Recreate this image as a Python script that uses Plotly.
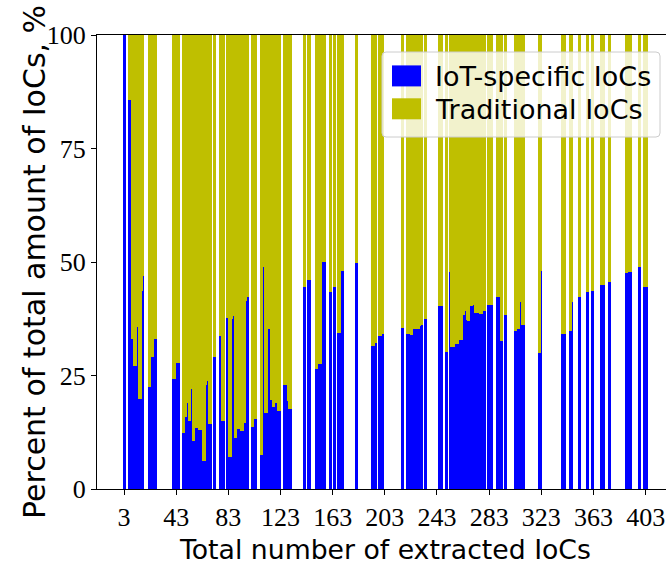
import plotly.graph_objects as go

# Total number of extracted IoCs (x) and share of IoT-specific IoCs, %
total_iocs = [
    3, 4, 7, 8, 9, 10, 11, 12, 14, 15, 16, 17, 18, 22, 23, 24, 25, 27, 28,
    41, 42, 43, 44, 45, 48, 49, 50, 51, 52, 53, 54, 55, 56, 57, 58, 59, 60, 61, 62,
    64, 65, 66, 67, 68, 69, 70, 72, 73, 77, 78, 79, 80,
    82, 83, 84, 85, 86, 87, 88, 89, 90, 91, 93, 94, 95, 96, 97, 98,
    101, 102, 103, 104, 108, 109, 110, 111, 112, 113, 114, 115, 116, 117, 118, 119,
    120, 121, 122, 123, 126, 127, 129, 130, 131,
    141, 142, 144, 145, 146, 150, 151, 152, 153, 154, 156, 157, 161, 162, 164, 165,
    167, 168, 169, 170, 171, 181, 182, 193, 194, 195, 196, 199, 200, 201, 202,
    216, 217, 220, 221, 222, 223, 224, 225, 226, 228, 229, 230, 231, 232, 234, 235,
    245, 246, 247, 250, 251, 253, 254, 255, 256, 258, 259, 260, 261, 262, 263, 264,
    265, 266, 267, 268, 269, 270, 271, 272, 273, 274, 275, 276, 277, 278, 279, 280,
    282, 283, 284, 285, 289, 290, 291, 292, 293, 295, 296,
    303, 304, 305, 306, 307, 308, 309, 310, 321, 322, 323,
    339, 340, 341, 345, 346, 347, 352, 353, 358, 359, 362, 363,
    369, 370, 371, 375, 376, 388, 389, 390, 391, 392, 398, 399, 402, 403, 404,
]

iot_specific_pct = [
    100, 100, 85.6, 85.6, 33.1, 33.1, 27.2, 27.2, 35.6, 19.9, 19.9, 43.7, 47.0, 22.5, 22.5, 29.1, 29.1, 33.1, 33.1,
    24.3, 24.3, 27.8, 27.8, 27.8, 12.4, 12.4, 15.9, 15.9, 19.0, 15.0, 15.0, 22.1, 10.6, 10.6, 13.5, 13.5, 13.5, 13.1, 13.1,
    6.2, 6.2, 23.0, 23.8, 14.4, 14.4, 14.4, 29.1, 29.1, 33.6, 15.0, 15.0, 15.0,
    37.7, 37.7, 7.1, 7.1, 37.5, 38.2, 11.3, 11.3, 13.2, 13.2, 12.8, 12.8, 14.6, 14.6, 41.5, 42.2,
    13.7, 13.7, 15.5, 15.5, 7.4, 7.4, 49.0, 16.8, 16.8, 16.8, 35.3, 50.8, 19.7, 18.0, 18.0, 19.1,
    19.0, 17.1, 17.1, 17.1, 23.0, 23.0, 19.3, 17.7, 17.7,
    44.6, 44.6, 46.1, 46.1, 46.1, 26.5, 26.5, 27.6, 27.6, 27.6, 49.9, 49.9, 43.3, 43.3, 44.4, 44.4,
    34.4, 34.4, 34.4, 48.1, 48.1, 49.7, 49.7, 31.6, 31.6, 31.6, 32.2, 33.6, 33.6, 34.2, 34.2,
    35.5, 35.5, 34.2, 34.2, 34.2, 34.0, 34.0, 35.3, 35.3, 35.3, 35.3, 35.8, 36.2, 36.2, 37.5, 37.5,
    40.2, 40.2, 40.2, 30.2, 30.2, 47.9, 31.3, 31.3, 31.3, 32.0, 32.0, 32.9, 32.9, 32.9, 38.4, 38.4,
    39.3, 37.3, 37.1, 37.1, 40.2, 40.2, 40.6, 38.8, 38.8, 38.8, 38.8, 38.6, 38.6, 38.6, 39.3, 39.3,
    40.6, 40.6, 40.6, 40.6, 42.4, 42.4, 42.4, 32.5, 32.5, 38.4, 38.4,
    34.9, 34.9, 35.3, 35.3, 41.1, 36.2, 36.2, 36.2, 30.0, 30.0, 48.1,
    34.2, 34.2, 34.2, 34.9, 34.9, 41.3, 42.2, 42.2, 43.3, 43.3, 43.7, 43.7,
    45.0, 45.0, 45.0, 45.7, 45.7, 47.5, 47.5, 47.7, 47.7, 47.9, 48.8, 48.8, 44.6, 44.6, 44.6,
]

traditional_pct = [100 - v for v in iot_specific_pct]

x_ticks = [3, 43, 83, 123, 163, 203, 243, 283, 323, 363, 403]
y_ticks = [0, 25, 50, 75, 100]
series_names = ["IoT-specific IoCs", "Traditional IoCs"]
colors = ["#0000ff", "#bfbf00"]

W, H = 666, 565
L, R, T, B = 97, 0, 35, 76
pw, ph = W - L - R, H - T - B

def px_x(p):
    return (p - L) / pw

def px_y(p):
    return (H - B - p) / ph

fig = go.Figure()
fig.add_trace(go.Bar(x=total_iocs, y=iot_specific_pct, name=series_names[0],
                     marker=dict(color=colors[0], line=dict(width=0)), width=1,
                     showlegend=False))
fig.add_trace(go.Bar(x=total_iocs, y=traditional_pct, name=series_names[1],
                     marker=dict(color=colors[1], line=dict(width=0)), width=1,
                     showlegend=False))

serif = "Liberation Serif, Times New Roman, serif"
sans = "DejaVu Sans, sans-serif"

fig.update_layout(
    width=W, height=H,
    margin=dict(l=L, r=R, t=T, b=B, pad=0),
    barmode="stack", bargap=0,
    plot_bgcolor="white", paper_bgcolor="white",
    xaxis=dict(range=[-17.7, 418.6], tickvals=x_ticks, ticktext=[str(v) for v in x_ticks],
               ticks="outside", ticklen=5, tickwidth=1, tickcolor="black",
               showline=True, linecolor="black", linewidth=1, mirror=True,
               showgrid=False, zeroline=False,
               tickfont=dict(family=serif, size=26, color="black")),
    yaxis=dict(range=[0, 100], tickvals=y_ticks,
               ticks="outside", ticklen=5, tickwidth=1, tickcolor="black",
               showline=True, linecolor="black", linewidth=1, mirror=False,
               showgrid=False, zeroline=False,
               tickfont=dict(family=serif, size=26, color="black")),
    showlegend=False,
)

# axis titles
fig.add_annotation(text="Total number of extracted IoCs", xref="paper", yref="paper",
                   x=px_x(385.5), y=px_y(549), xanchor="center", yanchor="middle",
                   height=30, valign="middle",
                   showarrow=False, font=dict(family=sans, size=26.7, color="black"))
fig.add_annotation(text="Percent of total amount of IoCs, %", xref="paper", yref="paper",
                   x=px_x(34), y=0.5, xanchor="center", yanchor="middle", textangle=-90,
                   showarrow=False, font=dict(family=sans, size=30, color="black"))

# legend (matplotlib-style box)
x0, x1, y0, y1 = px_x(382), px_x(660), px_y(52), px_y(137)
rx, ry = 4 / pw, 4 / ph
path = (f"M{x0+rx},{y0} L{x1-rx},{y0} Q{x1},{y0} {x1},{y0-ry} "
        f"L{x1},{y1+ry} Q{x1},{y1} {x1-rx},{y1} L{x0+rx},{y1} Q{x0},{y1} {x0},{y1+ry} "
        f"L{x0},{y0-ry} Q{x0},{y0} {x0+rx},{y0} Z")
fig.add_shape(type="path", path=path, xref="paper", yref="paper",
              fillcolor="rgba(255,255,255,0.8)", line=dict(color="#cccccc", width=1))
rows = [(65.4, 86.4, 76), (98.3, 119.3, 109)]
for (ya, yb, yc), name, col in zip(rows, series_names, colors):
    fig.add_shape(type="rect", xref="paper", yref="paper",
                  x0=px_x(392), x1=px_x(421), y0=px_y(yb), y1=px_y(ya),
                  fillcolor=col, line=dict(width=0))
    fig.add_annotation(text=name, xref="paper", yref="paper", x=px_x(433), y=px_y(yc),
                       xanchor="left", yanchor="middle", showarrow=False,
                       font=dict(family=sans, size=27, color="black"))

fig.write_html("out.html", config={"displayModeBar": False},
               post_script="document.body.style.margin='0';document.body.style.overflow='hidden';")
